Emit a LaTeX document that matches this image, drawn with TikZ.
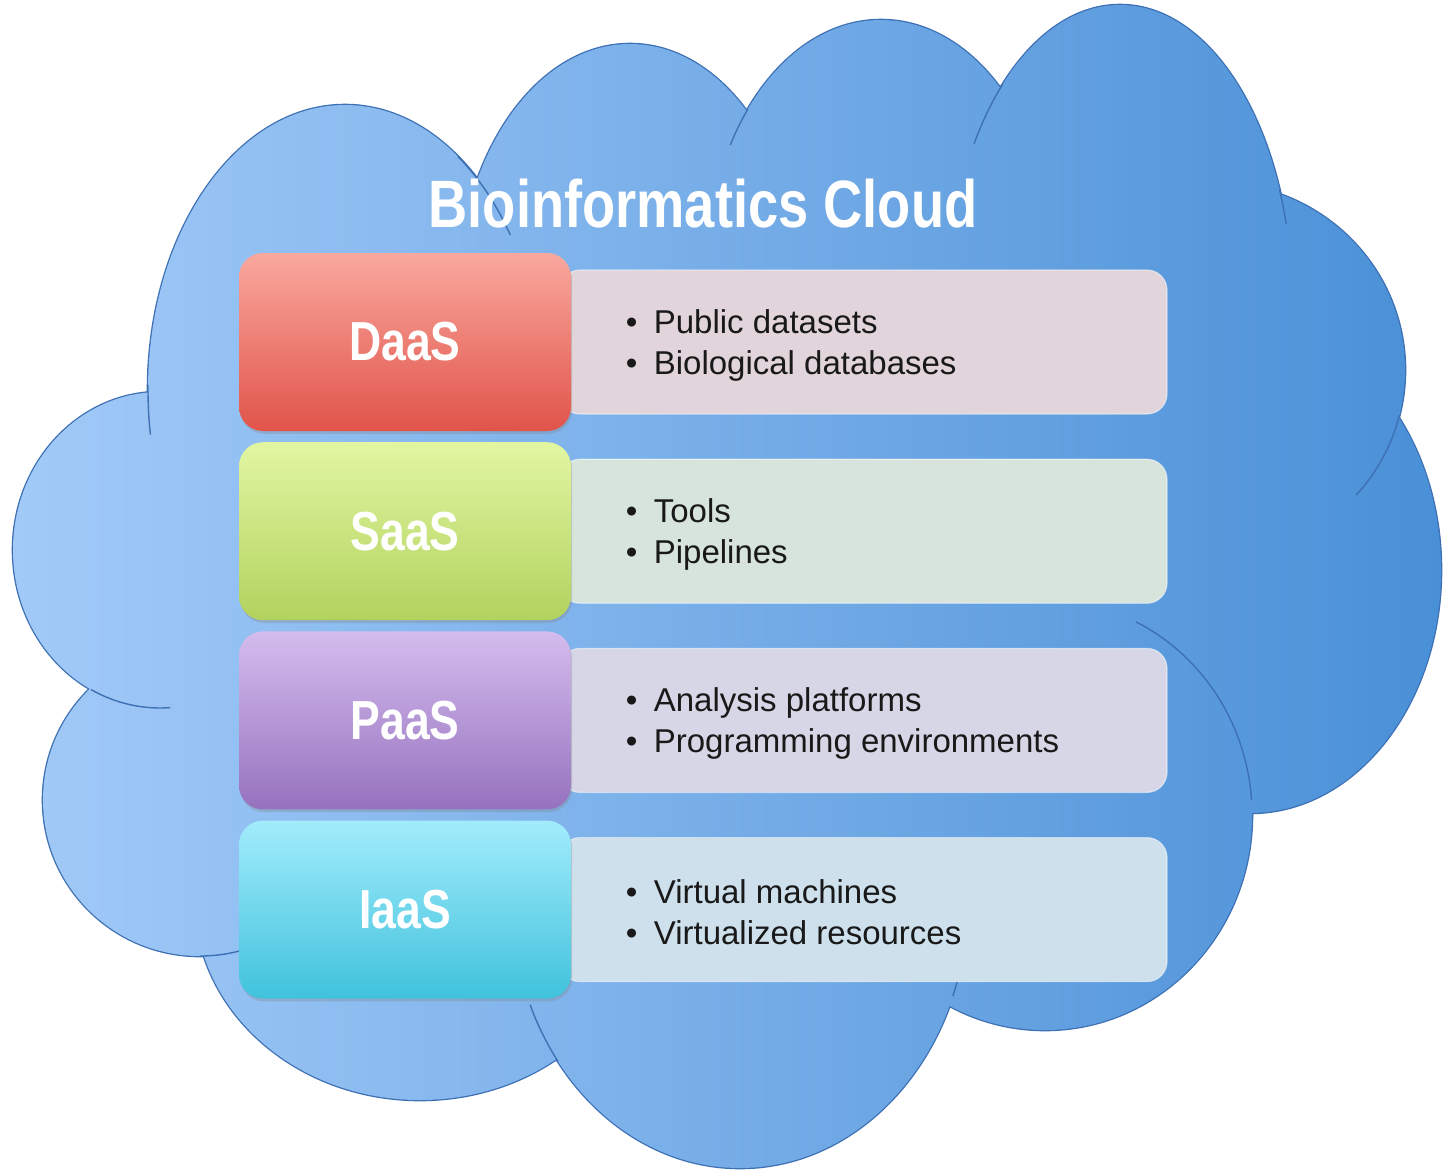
\documentclass[tikz,border=0pt]{standalone}
\usepackage{fontspec}
\setmainfont{Liberation Sans}
\newfontfamily\narrowfont[FakeStretch=0.81]{Liberation Sans}
\usetikzlibrary{positioning,shadows}

\definecolor{cloudleft}{RGB}{162,202,248}
\definecolor{cloudright}{RGB}{74,144,215}
\definecolor{cloudline}{RGB}{62,112,180}
\definecolor{daastop}{RGB}{249,168,158}
\definecolor{daasbot}{RGB}{225,84,74}
\definecolor{daasinfo}{RGB}{225,212,218}
\definecolor{saastop}{RGB}{226,246,162}
\definecolor{saasbot}{RGB}{178,210,94}
\definecolor{saasinfo}{RGB}{215,228,220}
\definecolor{paastop}{RGB}{212,188,238}
\definecolor{paasbot}{RGB}{150,114,190}
\definecolor{paasinfo}{RGB}{214,214,230}
\definecolor{iaastop}{RGB}{162,236,252}
\definecolor{iaasbot}{RGB}{64,194,220}
\definecolor{iaasinfo}{RGB}{205,224,236}
\definecolor{listgray}{RGB}{25,25,25}

% lobes of the cloud: centre x / centre y / x radius / y radius
\newcommand{\lobelist}{345/390/197/285, 630/300/173/256, 881/270/174/250,
  1120/300/172/295, 1215/370/190/187, 1250/570/191/243, 1045/815/207/215,
  740/900/228/268, 420/900/225/200, 200/800/157/156, 160/550/147/158}

\begin{document}
\begin{tikzpicture}[x=0.5pt, y=-0.5pt]
   \tikzstyle{layerbox}=[rounded corners=12pt, minimum width=166pt, minimum height=89pt,
      text=white, font=\narrowfont\bfseries\fontsize{27.5}{27.5}\selectfont,
      drop shadow={opacity=0.3, shadow xshift=0.6pt, shadow yshift=-1.4pt}]
   \tikzstyle{infobox}=[rounded corners=10pt, minimum width=303.5pt, minimum height=72pt,
      draw=white, draw opacity=0.5, line width=0.6pt]
   \tikzstyle{listtext}=[inner sep=0pt, align=left, text=listgray, yshift=-1.5pt,
      font=\fontsize{16.5}{20.5}\selectfont]
   \tikzstyle{innerarc}=[draw=cloudline, line width=0.7pt]

\useasboundingbox[fill=white] (0,0) rectangle (1449,1173);

% the cloud: outlines first, then the shaded union on top
\draw[draw=cloudline, line width=1.3pt] \foreach \cx/\cy/\rx/\ry in \lobelist
   {(\cx,\cy) ellipse [x radius=\rx, y radius=\ry]};
\shade[left color=cloudleft, right color=cloudright] \foreach \cx/\cy/\rx/\ry in \lobelist
   {(\cx,\cy) ellipse [x radius=\rx, y radius=\ry]}
   (720,580) ellipse [x radius=450, y radius=380];
\foreach \cx/\cy/\rx/\ry/\s/\e in {345/390/197/285/-55/-33, 345/390/197/285/181/171,
   160/550/147/158/118/86, 200/800/157/156/90/72, 740/900/228/268/143/157,
   740/900/228/268/21/16, 1045/815/207/215/-64/-4, 1215/370/190/187/14/42,
   1120/300/172/295/-22/-15, 1120/300/172/295/-133/-148, 881/270/174/250/-140/-150}
   \draw[innerarc] (\cx,\cy) ++({\s}:{\rx} and {\ry})
      arc [start angle=\s, end angle=\e, x radius=\rx, y radius=\ry];

\node[text=white, font=\narrowfont\bfseries\fontsize{33.5}{33.5}\selectfont] (title)
   at (703,204) {Bioinformatics Cloud};

% service layers
\node[infobox, fill=daasinfo] (dinfo) at (863.5,342) {};
\node[infobox, fill=saasinfo, below=22pt of dinfo] (sinfo) {};
\node[infobox, fill=paasinfo, below=22pt of sinfo] (pinfo) {};
\node[infobox, fill=iaasinfo, below=22pt of pinfo] (iinfo) {};

\node[layerbox, top color=daastop, bottom color=daasbot, left=-6pt of dinfo] (daas) {DaaS};
\node[layerbox, top color=saastop, bottom color=saasbot, left=-6pt of sinfo] (saas) {SaaS};
\node[layerbox, top color=paastop, bottom color=paasbot, left=-6pt of pinfo] (paas) {PaaS};
\node[layerbox, top color=iaastop, bottom color=iaasbot, left=-6pt of iinfo] (iaas) {IaaS};

\node[listtext, right=33pt of dinfo.west] (dlist)
   {•\enspace Public datasets\\•\enspace Biological databases};
\node[listtext, right=33pt of sinfo.west] (slist)
   {•\enspace Tools\\•\enspace Pipelines};
\node[listtext, right=33pt of pinfo.west] (plist)
   {•\enspace Analysis platforms\\•\enspace Programming environments};
\node[listtext, right=33pt of iinfo.west] (ilist)
   {•\enspace Virtual machines\\•\enspace Virtualized resources};

\end{tikzpicture}
\end{document}
